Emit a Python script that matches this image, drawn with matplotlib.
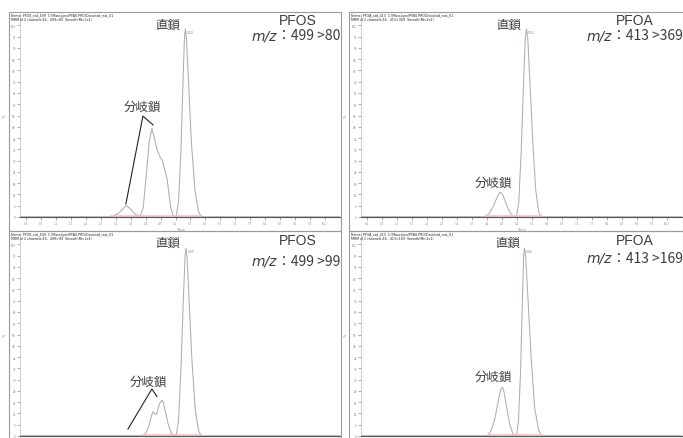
import numpy as np
import matplotlib
matplotlib.use("Agg")
import matplotlib.pyplot as plt
from matplotlib.patches import Rectangle

plt.rcParams['font.family'] = ['Noto Sans CJK JP', 'DejaVu Sans']

# panel info (top-left, top-right, bottom-left, bottom-right)
compounds = ["PFOS", "PFOA", "PFOS", "PFOA"]
transitions = ["499 >80", "413 >369", "499 >99", "413 >169"]

# straight chain (直鎖) traces: retention time (min), relative intensity (%)
linear_t = [
    [0, 5.22, 5.30, 5.38, 5.45, 5.50, 5.53, 5.57, 5.64, 5.73, 5.85, 5.97, 6.06, 10.7],
    [0, 5.18, 5.26, 5.34, 5.42, 5.48, 5.52, 5.56, 5.63, 5.72, 5.82, 5.92, 6.00, 10.7],
    [0, 5.22, 5.30, 5.38, 5.46, 5.52, 5.55, 5.59, 5.66, 5.75, 5.86, 5.97, 6.06, 10.7],
    [0, 5.18, 5.25, 5.32, 5.38, 5.42, 5.45, 5.49, 5.57, 5.67, 5.79, 5.92, 6.03, 10.7],
]
linear_y = [
    [0, 0, 8, 35, 72, 96, 100, 94, 70, 40, 14, 3, 0, 0],
    [0, 0, 8, 35, 72, 96, 100, 95, 72, 42, 15, 3, 0, 0],
    [0, 0, 8, 35, 72, 96, 100, 94, 70, 40, 14, 3, 0, 0],
    [0, 0, 8, 35, 72, 96, 100, 95, 72, 42, 15, 3, 0, 0],
]

# branched (分岐鎖) traces
branch_t = [
    [0, 3.05, 3.30, 3.48, 3.56, 3.68, 3.85, 4.02, 4.12, 4.22, 4.32, 4.41, 4.48, 4.58, 4.68, 4.76, 4.92, 5.04, 5.14, 10.7],
    [0, 4.15, 4.28, 4.42, 4.55, 4.62, 4.66, 4.72, 4.84, 4.96, 5.08, 10.7],
    [0, 4.12, 4.22, 4.32, 4.40, 4.45, 4.52, 4.58, 4.66, 4.74, 4.78, 4.86, 4.96, 5.06, 5.16, 10.7],
    [0, 4.22, 4.34, 4.46, 4.58, 4.66, 4.71, 4.76, 4.86, 4.96, 5.06, 5.14, 10.7],
]
branch_y = [
    [0, 0, 2, 5, 6, 4.5, 1.5, 0.5, 5, 22, 40, 47, 43, 36, 32, 30, 20, 5, 0, 0],
    [0, 0, 2, 6, 11, 13, 13, 12, 7, 2.5, 0, 0],
    [0, 0, 2, 6, 11, 13, 11.5, 12, 17, 19, 18.5, 13, 6, 1.5, 0, 0],
    [0, 0, 3, 9, 19, 25, 26, 24, 15, 6, 1.5, 0, 0],
]
apex_rt = ["5.52", "5.52", "5.55", "5.45"]

W, H = 683, 439


def fbox(x0, y0, x1, y1):
    # pixel box (top-left origin) -> figure fraction [l, b, w, h]
    return [x0 / W, 1 - y1 / H, (x1 - x0) / W, (y1 - y0) / H]


fig = plt.figure(figsize=(W / 100, H / 100), dpi=100)

frames = [(9, 13, 341, 232), (349, 13, 683, 232), (9, 232, 341, 439), (349, 232, 683, 439)]
axes_px = [(20, 15, 340, 218), (361, 15, 682, 218), (20, 234, 340, 437), (361, 234, 682, 437)]

# label positions in data coords
straight_lbl = [(4.95, 102.7), (4.92, 102.7), (4.95, 103.2), (4.88, 103.2)]
name_lbl = [(9.30, 104.6), (9.13, 104.6), (9.30, 104.4), (9.13, 104.4)]
mz_lbl = [96.8, 96.6, 93.2, 94.8]
branch_lbl = [(4.11, 59), (4.41, 18.6), (4.28, 29), (4.41, 32)]
branch_lines = [
    [(3.54, 6.9), (4.11, 53.7), (4.45, 49)],
    None,
    [(3.61, 3.7), (4.41, 25), (4.58, 21)],
    None,
]

txtc = "#3c3c3c"
linec = "#b3abae"

for i in range(4):
    fx0, fy0, fx1, fy1 = frames[i]
    b = fbox(fx0, fy0, fx1, fy1)
    fig.add_artist(Rectangle((b[0], b[1]), b[2], b[3], transform=fig.transFigure,
                             fill=False, ec="#9a9a9a", lw=0.8))
    # tiny header text
    fig.text((fx0 + 2) / W, 1 - (fy0 + 3) / H,
             "Name: %s_std_%s  C:\\MassLynx\\PFAS.PRO\\Data\\std_mix_01" % (compounds[i], transitions[i].split()[0]),
             fontsize=2.3, color="#222222", va="center", family="DejaVu Sans")
    fig.text((fx0 + 2) / W, 1 - (fy0 + 7) / H,
             "MRM of 2 channels,ES-  %s  Smooth(Mn,2x1)" % transitions[i].replace(" ", ""),
             fontsize=2.3, color="#222222", va="center", family="DejaVu Sans")

    ax = fig.add_axes(fbox(*axes_px[i]))
    ax.set_xlim(0, 10.7)
    ax.set_ylim(0, 108)
    ax.plot(linear_t[i], linear_y[i], color=linec, lw=0.75)
    ax.plot(branch_t[i], branch_y[i], color=linec, lw=0.75)
    ax.plot([branch_t[i][1], linear_t[i][-2]], [0.7, 0.7], color="#f3c1c8", lw=1.6, alpha=0.8)

    k = int(np.argmax(linear_y[i]))
    ax.text(linear_t[i][k] + 0.05, linear_y[i][k] - 2, apex_rt[i], fontsize=2.2,
            color="#777777", family="DejaVu Sans")

    ax.text(*straight_lbl[i], "直鎖", fontsize=9, color=txtc, ha="center", va="center")
    ax.text(*name_lbl[i], compounds[i], fontsize=10, color=txtc, ha="center", va="center",
            family="Liberation Sans")
    t2 = ax.text(10.72, mz_lbl[i], "：" + transitions[i], fontsize=10, color=txtc,
                 ha="right", va="center", clip_on=False)
    ax.annotate("m/z", xy=(0, 0.5), xycoords=t2, ha="right", va="center",
                fontsize=10, color=txtc, style="italic", family="DejaVu Sans")
    ax.text(*branch_lbl[i], "分岐鎖", fontsize=9, color=txtc, ha="center", va="center")
    if branch_lines[i] is not None:
        bx, by = zip(*branch_lines[i])
        ax.plot(bx, by, color="#222222", lw=0.8)

    for s in ["top", "right"]:
        ax.spines[s].set_visible(False)
    ax.spines["left"].set_color("#bbbbbb")
    ax.spines["bottom"].set_color("#555555")
    ax.spines["left"].set_linewidth(0.5)
    ax.spines["bottom"].set_linewidth(0.8)
    ax.set_yticks(np.arange(0, 103, 6))
    ax.set_yticklabels([str(v) for v in range(0, 103, 6)])
    ax.set_xticks(np.arange(0.2, 10.7, 0.5))
    ax.tick_params(labelsize=2.2, colors="#888888", length=2, width=0.5, pad=1)
    if i < 2:
        ax.set_xticklabels(["%.1f" % v for v in np.arange(0.2, 10.7, 0.5)])
        ax.set_xlabel("Time", fontsize=2.5, color="#888888", labelpad=1, family="DejaVu Sans")
    else:
        # x axis of the lower panels sits on the image edge
        ax.set_xticklabels([])
        ax.tick_params(axis="x", length=0)
    ax.set_ylabel("%", fontsize=2.5, color="#888888", labelpad=3, family="DejaVu Sans")
    ax.patch.set_alpha(0)

fig.savefig("out.png", dpi=100)
